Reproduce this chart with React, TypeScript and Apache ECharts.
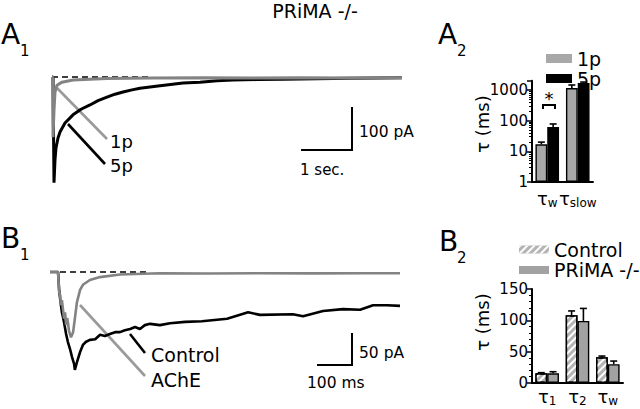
import React, { useEffect, useRef } from "react";
import * as echarts from "echarts";

const FONT = "DejaVu Sans";

// ---------- A1: mEPC traces (time s, current pA) ----------
const a1Trace5p: [number, number][] = [
  [0, 0], [0.02, 0], [0.04, -246], [0.06, -193], [0.08, -165], [0.12, -142], [0.16, -128],
  [0.26, -107], [0.42, -88], [0.58, -75], [0.76, -65], [0.92, -55], [1.1, -47], [1.26, -40],
  [1.42, -35], [1.6, -30], [1.76, -26], [2.12, -21], [2.62, -14], [2.96, -12], [3.3, -9],
  [3.62, -7], [4.1, -6], [4.62, -5], [5.3, -4], [5.96, -3], [6.5, -2.5], [7, -2],
];
const a1Trace1p: [number, number][] = [
  [0, 0], [0.015, 0], [0.02, -140], [0.04, -77], [0.06, -35], [0.1, -19], [0.2, -12],
  [0.42, -7], [1.1, -3.5], [2.02, -2.3], [3, -2], [4, -2.2], [5, -2], [6, -2.1], [7, -2],
];
const a1Baseline: [number, number][] = [[0, 0], [2, 0]];

// ---------- B1: traces (time ms, current pA) ----------
const b1TraceControl: [number, number][] = [
  [0, 0], [23, 0], [26, -27], [29, -42], [34, -63], [40, -78], [46, -97], [51, -109],
  [57, -120], [63, -133], [69, -144], [71, -153], [77, -141], [86, -125], [94, -114],
  [103, -109], [114, -106], [129, -105], [143, -98], [157, -100], [171, -97], [186, -94],
  [200, -94], [214, -91], [229, -89], [243, -86], [257, -89], [271, -83], [286, -81],
  [314, -83], [343, -80], [386, -78], [434, -77], [506, -73], [566, -63], [600, -67],
  [694, -66], [723, -69], [780, -61], [837, -58], [886, -59], [923, -52], [963, -52], [1000, -53],
];
const b1TraceAChE: [number, number][] = [
  [0, 0], [23, 0], [26, -31], [29, -36], [31, -52], [34, -44], [37, -58], [40, -73],
  [43, -63], [46, -83], [49, -72], [51, -78], [54, -91], [57, -97], [60, -102], [63, -98],
  [66, -94], [71, -73], [77, -47], [86, -28], [94, -20], [114, -12.5], [143, -8], [200, -4],
  [314, -2], [450, -2.3], [600, -2], [750, -2.2], [900, -2], [1000, -2],
];
const b1Baseline: [number, number][] = [[0, 0], [280, 0]];

// ---------- A2: decay constants (ms, log axis) ----------
const a2Categories = ["w", "slow"];
const a2Mean1p = [17, 1160];
const a2Err1p = [3, 300];
const a2Mean5p = [62, 1690];
const a2Err5p = [16, 130];
const a2Ticks = [1, 10, 100, 1000];

// ---------- B2: decay constants (ms) ----------
const b2Categories = ["1", "2", "w"];
const b2MeanControl = [15.5, 108, 41];
const b2ErrControl = [1, 7, 2];
const b2MeanPrima = [15.5, 99, 30];
const b2ErrPrima = [2.5, 20, 5];

const GRAY_TRACE = "#838383";
const GRAY_POINTER = "#9a9a9a";
const GRAY_BAR = "#a8a8a8";
const GRAY_BAR_B = "#a2a2a2";

function errorSeries(
  name: string,
  means: number[],
  errs: number[],
  xAxisIndex: number,
  yAxisIndex: number,
  offset: number
) {
  return {
    type: "custom",
    name: name + "-err",
    xAxisIndex,
    yAxisIndex,
    silent: true,
    z: 5,
    encode: { x: 0, y: 1 },
    data: means.map((m, i) => [i, m, errs[i]]),
    renderItem: (params: any, api: any) => {
      const cat = api.value(0);
      const m = api.value(1);
      const e = api.value(2);
      const base = api.coord([cat, m]);
      const top = api.coord([cat, m + e]);
      const x = base[0] + offset;
      const st = { stroke: "#000", lineWidth: 1.6 };
      return {
        type: "group",
        children: [
          { type: "line", shape: { x1: x, y1: base[1], x2: x, y2: top[1] }, style: st },
          { type: "line", shape: { x1: x - 3.5, y1: top[1], x2: x + 3.5, y2: top[1] }, style: st },
        ],
      };
    },
  };
}

const txt = (text: string, x: number, y: number, size: number, extra: any = {}) => ({
  type: "text",
  x,
  y,
  style: {
    text,
    fontSize: size,
    fontFamily: FONT,
    fill: "#000",
    align: "left",
    verticalAlign: "middle",
    ...extra,
  },
});
const ln = (x1: number, y1: number, x2: number, y2: number, color = "#000", w = 2) => ({
  type: "line",
  shape: { x1, y1, x2, y2 },
  style: { stroke: color, lineWidth: w },
});

export default function App() {
  const ref = useRef<HTMLDivElement>(null);
  useEffect(() => {
    if (!ref.current) return;
    const chart = echarts.init(ref.current, undefined, { renderer: "svg" });
    const barW = 11.8;
    const subRich = {
      t: { fontSize: 18, fontFamily: FONT, color: "#000" },
      s: { fontSize: 12, fontFamily: FONT, color: "#000", padding: [10, 0, 0, 0] },
    };
    const option: any = {
      animation: false,
      backgroundColor: "#fff",
      textStyle: { fontFamily: FONT },
      grid: [
        { left: 52, top: 72.7, width: 350, height: 116.1, containLabel: false, outerBoundsMode: "none" },
        { left: 532, top: 80.8, width: 61, height: 101.2, containLabel: false, outerBoundsMode: "none" },
        { left: 50, top: 265.6, width: 350, height: 108.8, containLabel: false, outerBoundsMode: "none" },
        { left: 532, top: 289, width: 91, height: 94, containLabel: false, outerBoundsMode: "none" },
      ],
      xAxis: [
        { gridIndex: 0, type: "value", min: 0, max: 7, show: false },
        {
          gridIndex: 1,
          type: "category",
          data: a2Categories,
          axisLine: { lineStyle: { color: "#000", width: 2 } },
          axisTick: { alignWithLabel: true, length: 4, lineStyle: { color: "#000", width: 1.5 } },
          axisLabel: { formatter: (v: string) => `{t|τ}{s|${v}}`, rich: subRich, margin: 5, interval: 0 },
          splitLine: { show: false },
        },
        { gridIndex: 2, type: "value", min: 0, max: 1000, show: false },
        {
          gridIndex: 3,
          type: "category",
          data: b2Categories,
          axisLine: { lineStyle: { color: "#000", width: 2 } },
          axisTick: { alignWithLabel: true, length: 4, lineStyle: { color: "#000", width: 1.5 } },
          axisLabel: { formatter: (v: string) => `{t|τ}{s|${v}}`, rich: subRich, margin: 2, interval: 0 },
          splitLine: { show: false },
        },
      ],
      yAxis: [
        { gridIndex: 0, type: "value", min: -260, max: 10, show: false },
        {
          gridIndex: 1,
          type: "log",
          logBase: 10,
          min: 1,
          max: 2000,
          axisLine: { show: true, lineStyle: { color: "#000", width: 2 } },
          axisTick: { show: true, length: 5, lineStyle: { color: "#000", width: 1.5 } },
          minorTick: { show: true, splitNumber: 9, length: 3, lineStyle: { color: "#000", width: 1 } },
          axisLabel: {
            fontSize: 15,
            fontFamily: FONT,
            color: "#000",
            margin: 4,
            formatter: (v: number) => (a2Ticks.indexOf(Math.round(v)) >= 0 ? String(Math.round(v)) : ""),
          },
          splitLine: { show: false },
        },
        { gridIndex: 2, type: "value", min: -160, max: 10, show: false },
        {
          gridIndex: 3,
          type: "value",
          min: 0,
          max: 150,
          interval: 50,
          axisLine: { show: true, lineStyle: { color: "#000", width: 2 } },
          axisTick: { show: true, length: 5, lineStyle: { color: "#000", width: 1.5 } },
          minorTick: { show: true, splitNumber: 5, length: 3, lineStyle: { color: "#000", width: 1 } },
          axisLabel: { fontSize: 15, fontFamily: FONT, color: "#000", margin: 4 },
          splitLine: { show: false },
        },
      ],
      legend: [
        {
          left: 541,
          top: 44,
          orient: "vertical",
          icon: "rect",
          itemWidth: 26,
          itemHeight: 9,
          itemGap: 1,
          selectedMode: false,
          itemStyle: { borderWidth: 0 },
          data: ["1p", "5p"],
          textStyle: { fontSize: 19, fontFamily: FONT, color: "#000", lineHeight: 12 },
        },
        {
          left: 514,
          top: 235,
          orient: "vertical",
          icon: "rect",
          itemWidth: 30,
          itemHeight: 8,
          itemGap: 1.5,
          selectedMode: false,
          itemStyle: { borderWidth: 0 },
          data: ["Control", "PRiMA -/-"],
          textStyle: { fontSize: 19, fontFamily: FONT, color: "#000", lineHeight: 16 },
        },
      ],
      series: [
        // A1
        {
          type: "line", name: "A1 baseline", xAxisIndex: 0, yAxisIndex: 0, data: a1Baseline,
          symbol: "none", silent: true, lineStyle: { color: "#000", width: 1.6, type: [6, 4] }, z: 1,
        },
        {
          type: "line", name: "5p trace", xAxisIndex: 0, yAxisIndex: 0, data: a1Trace5p,
          symbol: "none", silent: true, lineStyle: { color: "#000", width: 3 }, z: 2,
        },
        {
          type: "line", name: "1p trace", xAxisIndex: 0, yAxisIndex: 0, data: a1Trace1p,
          symbol: "none", silent: true, lineStyle: { color: GRAY_TRACE, width: 3 }, z: 3,
        },
        // B1
        {
          type: "line", name: "B1 baseline", xAxisIndex: 2, yAxisIndex: 2, data: b1Baseline,
          symbol: "none", silent: true, lineStyle: { color: "#000", width: 1.6, type: [6, 4] }, z: 1,
        },
        {
          type: "line", name: "Control trace", xAxisIndex: 2, yAxisIndex: 2, data: b1TraceControl,
          symbol: "none", silent: true, lineStyle: { color: "#000", width: 2.6 }, z: 2,
        },
        {
          type: "line", name: "AChE trace", xAxisIndex: 2, yAxisIndex: 2, data: b1TraceAChE,
          symbol: "none", silent: true, lineStyle: { color: GRAY_TRACE, width: 2.6 }, z: 3,
        },
        // A2 bars
        {
          type: "bar", name: "1p", xAxisIndex: 1, yAxisIndex: 1, data: a2Mean1p, barWidth: barW, barGap: "0%",
          itemStyle: { color: GRAY_BAR, borderColor: "#000", borderWidth: 1.4 }, silent: true,
        },
        {
          type: "bar", name: "5p", xAxisIndex: 1, yAxisIndex: 1, data: a2Mean5p, barWidth: barW, barGap: "0%",
          itemStyle: { color: "#000", borderColor: "#000", borderWidth: 1.4 }, silent: true,
        },
        errorSeries("1p", a2Mean1p, a2Err1p, 1, 1, -barW / 2),
        errorSeries("5p", a2Mean5p, a2Err5p, 1, 1, barW / 2),
        // B2 bars
        {
          type: "bar", name: "Control", xAxisIndex: 3, yAxisIndex: 3, data: b2MeanControl, barWidth: barW, barGap: "0%",
          itemStyle: {
            color: "#b4b4b4",
            borderColor: "#000",
            borderWidth: 1.4,
            decal: {
              symbol: "rect",
              symbolSize: 1,
              dashArrayX: [1, 0],
              dashArrayY: [2, 3],
              rotation: -Math.PI / 4,
              color: "#ffffff",
            },
          },
          silent: true,
        },
        {
          type: "bar", name: "PRiMA -/-", xAxisIndex: 3, yAxisIndex: 3, data: b2MeanPrima, barWidth: barW, barGap: "0%",
          itemStyle: { color: GRAY_BAR_B, borderColor: "#000", borderWidth: 1.4 }, silent: true,
        },
        errorSeries("Control", b2MeanControl, b2ErrControl, 3, 3, -barW / 2),
        errorSeries("PRiMA -/-", b2MeanPrima, b2ErrPrima, 3, 3, barW / 2),
      ],
      graphic: [
        txt("PRiMA -/-", 315, 11, 19, { align: "center" }),
        // panel labels
        txt("A", 1, 34, 28),
        txt("1", 20, 51, 15),
        txt("A", 438, 34, 28),
        txt("2", 457, 51, 15),
        txt("B", 1, 238, 28),
        txt("1", 20, 255, 15),
        txt("B", 439, 241, 28),
        txt("2", 457, 258, 15),
        // A1 annotations
        ln(57, 88, 107, 139, GRAY_POINTER, 2.6),
        ln(68, 124, 105, 164, "#000", 2.6),
        txt("1p", 110, 141, 18),
        txt("5p", 110, 165, 18),
        ln(352, 107, 352, 151, "#000", 2),
        ln(301, 150, 353, 150, "#000", 2),
        txt("100 pA", 359, 132, 15.5),
        txt("1 sec.", 300, 170, 15),
        // B1 annotations
        ln(80, 305, 145, 376, GRAY_POINTER, 2.6),
        ln(130, 334, 145, 353, "#000", 2.6),
        txt("Control", 151, 355, 19),
        txt("AChE", 151, 380, 19),
        ln(352, 333, 352, 366, "#000", 2),
        ln(317, 365, 353, 365, "#000", 2),
        txt("50 pA", 359, 353, 15.5),
        txt("100 ms", 307, 383, 15.5),
        // A2 significance
        {
          type: "polyline",
          shape: { points: [[543, 109], [543, 105], [555, 105], [555, 109]] },
          style: { stroke: "#000", lineWidth: 2, fill: "none" },
        },
        txt("*", 549, 98, 18, { align: "center" }),
        // y axis names
        { ...txt("τ (ms)", 482, 124, 18, { align: "center" }), rotation: Math.PI / 2 },
        { ...txt("τ (ms)", 482, 322, 18, { align: "center" }), rotation: Math.PI / 2 },
      ],
    };
    chart.setOption(option);
    return () => chart.dispose();
  }, []);
  return (
    <div
      ref={ref}
      style={{ position: "fixed", left: 0, top: 0, width: 640, height: 409 }}
    />
  );
}
